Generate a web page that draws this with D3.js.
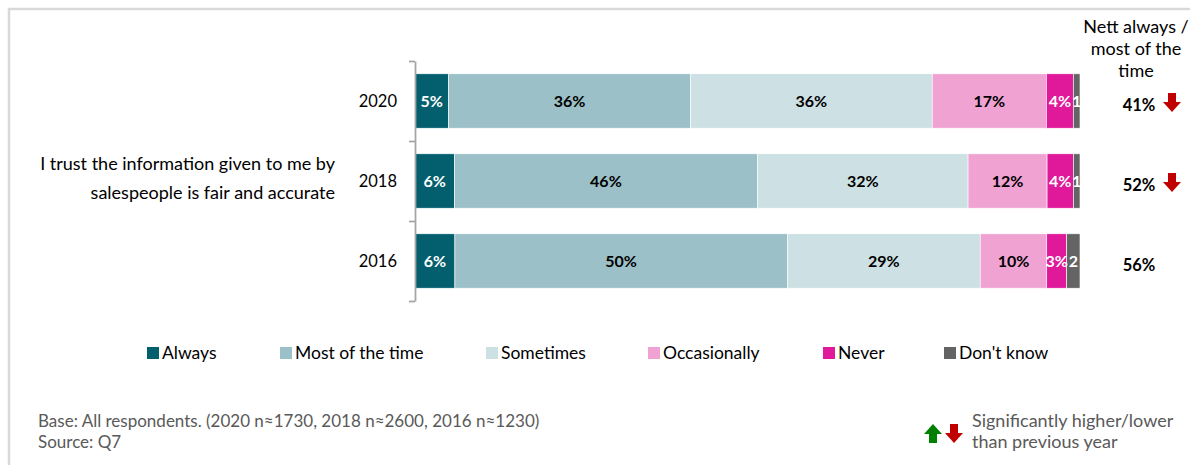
<!DOCTYPE html>
<html>
<head>
<meta charset="utf-8">
<script src="https://cdn.jsdelivr.net/npm/d3@7/dist/d3.min.js"></script>
<style>
  html, body { margin: 0; padding: 0; background: #fff; }
  svg { display: block; font-family: Lato, "Open Sans", sans-serif; }
</style>
</head>
<body>
<svg id="chart" width="1190" height="465"></svg>
<script>
// Survey statement and years
const statement = ["I trust the information given to me by", "salespeople is fair and accurate"];
const years = ["2020", "2018", "2016"];
const categories = ["Always", "Most of the time", "Sometimes", "Occasionally", "Never", "Don't know"];

// Response shares (%) per year, in category order
const always        = [5, 6, 6];
const mostOfTheTime = [36, 46, 50];
const sometimes     = [36, 32, 29];
const occasionally  = [17, 12, 10];
const never         = [4, 4, 3];
const dontKnow      = [1, 1, 2];

// Nett always / most of the time, with significance vs previous wave
const nett = [41, 52, 56];
const nettSig = ["down", "down", null];

const colors = ["#035f6d", "#9bc0c7", "#cde0e3", "#f0a3d3", "#e0189a", "#646464"];
const labelColors = ["#fff", "#000", "#000", "#000", "#fff", "#fff"];

const seriesValues = [always, mostOfTheTime, sometimes, occasionally, never, dontKnow];
const rows = years.map((y, i) => {
  const r = { year: y };
  categories.forEach((c, k) => { r[c] = seriesValues[k][i]; });
  return r;
});

const svg = d3.select("#chart");

// Outer frame
svg.append("rect")
  .attr("x", 9).attr("y", 9).attr("width", 1300).attr("height", 600)
  .attr("fill", "none").attr("stroke", "#d9d9d9").attr("stroke-width", 2.5);

const x = d3.scaleLinear().domain([0, 1]).range([415, 1080]);
const y = d3.scaleBand().domain(years).range([61, 301]).paddingInner(0.32).paddingOuter(0.16);

const stack = d3.stack().keys(categories).offset(d3.stackOffsetExpand);
const stacked = stack(rows);

// Bars
const layers = svg.append("g").selectAll("g")
  .data(stacked).join("g")
  .attr("fill", (d, i) => colors[i]);

layers.selectAll("rect")
  .data(d => d.map(p => ({ p, key: d.key })))
  .join("rect")
  .attr("x", d => x(d.p[0]))
  .attr("y", d => y(d.p.data.year))
  .attr("width", d => x(d.p[1]) - x(d.p[0]))
  .attr("height", y.bandwidth())
  .attr("stroke", "#fff").attr("stroke-width", 0.6);

// Segment labels
stacked.forEach((layer, k) => {
  svg.append("g").selectAll("text")
    .data(layer).join("text")
    .attr("x", d => (x(d[0]) + x(d[1])) / 2)
    .attr("y", d => y(d.data.year) + y.bandwidth() / 2)
    .attr("dy", "0.36em")
    .attr("text-anchor", "middle")
    .attr("font-size", 16).attr("font-weight", 700)
    .attr("fill", labelColors[k])
    .text(d => {
      const v = d.data[layer.key];
      return layer.key === "Don't know" ? String(v) : v + "%";
    });
});

// Category axis with ticks between bands
const yIdx = d3.scaleLinear().domain([0, years.length]).range([61, 301]);
const axisG = svg.append("g").attr("transform", "translate(415,0)")
  .call(d3.axisLeft(yIdx).tickValues(d3.range(years.length + 1)).tickFormat("").tickSize(6).tickSizeOuter(0));
axisG.select(".domain").attr("stroke", "#a6a6a6").attr("stroke-width", 1.8);
axisG.selectAll(".tick line").attr("stroke", "#a6a6a6").attr("stroke-width", 1.8);

// Year labels
svg.append("g").selectAll("text")
  .data(years).join("text")
  .attr("x", 397)
  .attr("y", d => y(d) + y.bandwidth() / 2)
  .attr("dy", "0.36em")
  .attr("text-anchor", "end")
  .attr("font-size", 16.5).attr("fill", "#000")
  .text(d => d);

// Statement label
svg.append("g").selectAll("text")
  .data(statement).join("text")
  .attr("x", 335)
  .attr("y", (d, i) => 170 + i * 29)
  .attr("text-anchor", "end")
  .attr("font-size", 18).attr("fill", "#000")
  .text(d => d);

// Nett header
svg.append("g").selectAll("text")
  .data(["Nett always /", "most of the", "time"]).join("text")
  .attr("x", 1136)
  .attr("y", (d, i) => 33 + i * 22)
  .attr("text-anchor", "middle")
  .attr("font-size", 18).attr("fill", "#000")
  .text(d => d);

// Arrow path helpers (block arrows)
function downArrow(cx, top) {
  return `M${cx - 4},${top} H${cx + 4} V${top + 9} H${cx + 9} L${cx},${top + 19} L${cx - 9},${top + 9} H${cx - 4} Z`;
}
function upArrow(cx, top) {
  return `M${cx},${top} L${cx + 9},${top + 10} H${cx + 4} V${top + 19} H${cx - 4} V${top + 10} H${cx - 9} Z`;
}

// Nett values and significance arrows
years.forEach((yr, i) => {
  const cy = y(yr) + y.bandwidth() / 2;
  svg.append("text")
    .attr("x", 1139).attr("y", cy + 4).attr("dy", "0.36em")
    .attr("text-anchor", "middle")
    .attr("font-size", 16.5).attr("font-weight", 700).attr("fill", "#000")
    .text(nett[i] + "%");
  if (nettSig[i] === "down") {
    svg.append("path").attr("d", downArrow(1172, cy - 8)).attr("fill", "#c00000");
  } else if (nettSig[i] === "up") {
    svg.append("path").attr("d", upArrow(1172, cy - 8)).attr("fill", "#008000");
  }
});

// Legend
const legendX = [147, 280, 486, 648, 823, 944];
const legend = svg.append("g").selectAll("g")
  .data(categories).join("g")
  .attr("transform", (d, i) => `translate(${legendX[i]},347)`);
legend.append("rect").attr("width", 12).attr("height", 12).attr("fill", (d, i) => colors[i]);
legend.append("text")
  .attr("x", 15).attr("y", 6).attr("dy", "0.36em")
  .attr("font-size", 17.5).attr("fill", "#000")
  .text(d => d);

// Footnotes
svg.append("g").selectAll("text")
  .data(["Base: All respondents. (2020 n\u22481730, 2018 n\u22482600, 2016 n\u22481230)", "Source: Q7"]).join("text")
  .attr("x", 38).attr("y", (d, i) => 427 + i * 21)
  .attr("font-size", 17).attr("fill", "#595959")
  .text(d => d);

// Significance key
svg.append("path").attr("d", upArrow(933, 424)).attr("fill", "#008000");
svg.append("path").attr("d", downArrow(954, 424)).attr("fill", "#c00000");
svg.append("g").selectAll("text")
  .data(["Significantly higher/lower", "than previous year"]).join("text")
  .attr("x", 972).attr("y", (d, i) => 427 + i * 21)
  .attr("font-size", 18).attr("fill", "#595959")
  .text(d => d);
</script>
</body>
</html>
